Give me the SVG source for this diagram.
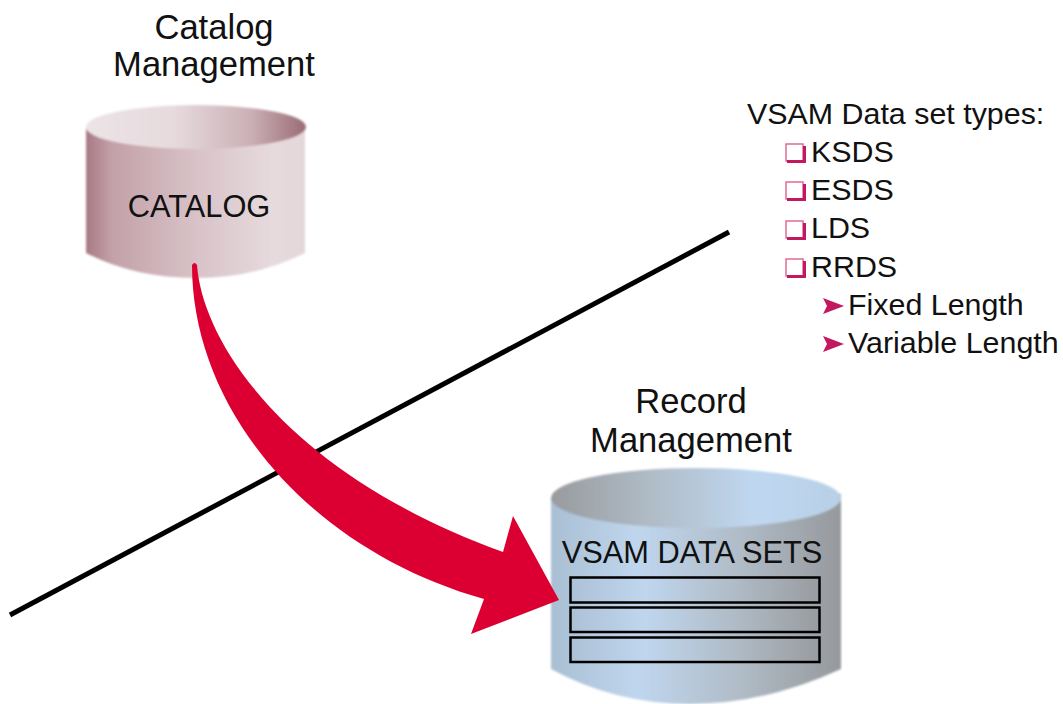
<svg xmlns="http://www.w3.org/2000/svg" width="1063" height="704" viewBox="0 0 1063 704">
<defs>
<linearGradient id="pinkBody" x1="0" x2="1" y1="0" y2="0"><stop offset="0" stop-color="#a87a84"/><stop offset="0.12" stop-color="#c3a1a9"/><stop offset="0.5" stop-color="#d8c2c7"/><stop offset="0.85" stop-color="#e6dadd"/><stop offset="1" stop-color="#e4d7da"/></linearGradient>
<linearGradient id="pinkTop" x1="0" x2="1" y1="0" y2="0"><stop offset="0" stop-color="#ece4e6"/><stop offset="0.4" stop-color="#e6dadd"/><stop offset="0.75" stop-color="#cbb0b6"/><stop offset="1" stop-color="#9a6c75"/></linearGradient>
<linearGradient id="blueBody" x1="0" x2="1" y1="0" y2="0"><stop offset="0" stop-color="#a9bfd3"/><stop offset="0.3" stop-color="#bfd6ee"/><stop offset="0.65" stop-color="#b0bcc7"/><stop offset="1" stop-color="#96999d"/></linearGradient>
<linearGradient id="blueTop" x1="0" x2="1" y1="0" y2="0"><stop offset="0" stop-color="#989b9e"/><stop offset="0.35" stop-color="#b0bcc7"/><stop offset="0.7" stop-color="#bfd7f0"/><stop offset="1" stop-color="#b8d0e6"/></linearGradient>
<linearGradient id="blueRow" x1="0" x2="1" y1="0" y2="0"><stop offset="0" stop-color="#adc1d6"/><stop offset="0.3" stop-color="#bfd6ee"/><stop offset="0.65" stop-color="#b0bcc7"/><stop offset="1" stop-color="#999ca0"/></linearGradient>
<filter id="soft" x="-5%" y="-5%" width="110%" height="110%"><feGaussianBlur stdDeviation="1"/></filter>
</defs>
<style>
text{font-family:"Liberation Sans",Arial,sans-serif;fill:#111}
.t{font-size:34.6px;text-anchor:middle}
.l{font-size:30.4px}
.m{font-size:30.8px;text-anchor:middle}
.row{fill:url(#blueRow);stroke:#000;stroke-width:2.5}
.box{fill:#fff;stroke:#e06a98;stroke-width:1.5}
.sh{fill:none;stroke:#c2185f;stroke-width:3}
.bul{fill:#c2185f}
</style>
<g id="catalog-node">
<g filter="url(#soft)">
<path d="M86 129V253Q135 278 196 278Q255 278 305 253V128Z" fill="url(#pinkBody)"/>
<ellipse cx="196" cy="127" rx="110" ry="22" fill="url(#pinkTop)"/>
</g>
<text class="m" x="199" y="217">CATALOG</text>
<text class="t" x="214" y="39">Catalog</text>
<text class="t" x="214" y="76">Management</text>
</g>
<g id="vsam-node">
<g filter="url(#soft)">
<path d="M551 497V669Q615 704 690 704Q765 704 841 669V494Z" fill="url(#blueBody)"/>
<ellipse cx="696" cy="498" rx="145" ry="30" fill="url(#blueTop)"/>
</g>
<text class="m" x="692" y="563">VSAM DATA SETS</text>
<rect class="row" x="570.500" y="577.500" width="249" height="25"/>
<rect class="row" x="570.500" y="607.500" width="249" height="24.500"/>
<rect class="row" x="570.500" y="637.500" width="249" height="24.500"/>
<text class="t" x="691" y="413">Record</text>
<text class="t" x="691" y="452">Management</text>
</g>
<g id="connectors">
<path d="M10 615L729 232" fill="none" stroke="#000" stroke-width="5"/>
<path d="M192 265Q194.500 261 197 265C203 345 290 475 503 552L513 516L559 600L471 634L484 599C310 550 192 410 192 265Z" fill="#dc0032"/>
</g>
<g id="types-list">
<text class="l" x="747" y="124">VSAM Data set types:</text>
<rect class="box" x="786" y="144" width="17" height="17"/><path class="sh" d="M787 161.500H804.500V146"/>
<text class="l" x="811" y="162">KSDS</text>
<rect class="box" x="786" y="182" width="17" height="17"/><path class="sh" d="M787 199.500H804.500V184"/>
<text class="l" x="811" y="200">ESDS</text>
<rect class="box" x="786" y="221" width="17" height="17"/><path class="sh" d="M787 238.500H804.500V223"/>
<text class="l" x="811" y="238">LDS</text>
<rect class="box" x="786" y="259" width="17" height="17"/><path class="sh" d="M787 276.500H804.500V261"/>
<text class="l" x="811" y="277">RRDS</text>
<path class="bul" d="M823 298L844 306L823 314L827 306Z"/>
<text class="l" x="848" y="315">Fixed Length</text>
<path class="bul" d="M823 336L844 344L823 352L827 344Z"/>
<text class="l" x="848" y="353">Variable Length</text>
</g>
</svg>
